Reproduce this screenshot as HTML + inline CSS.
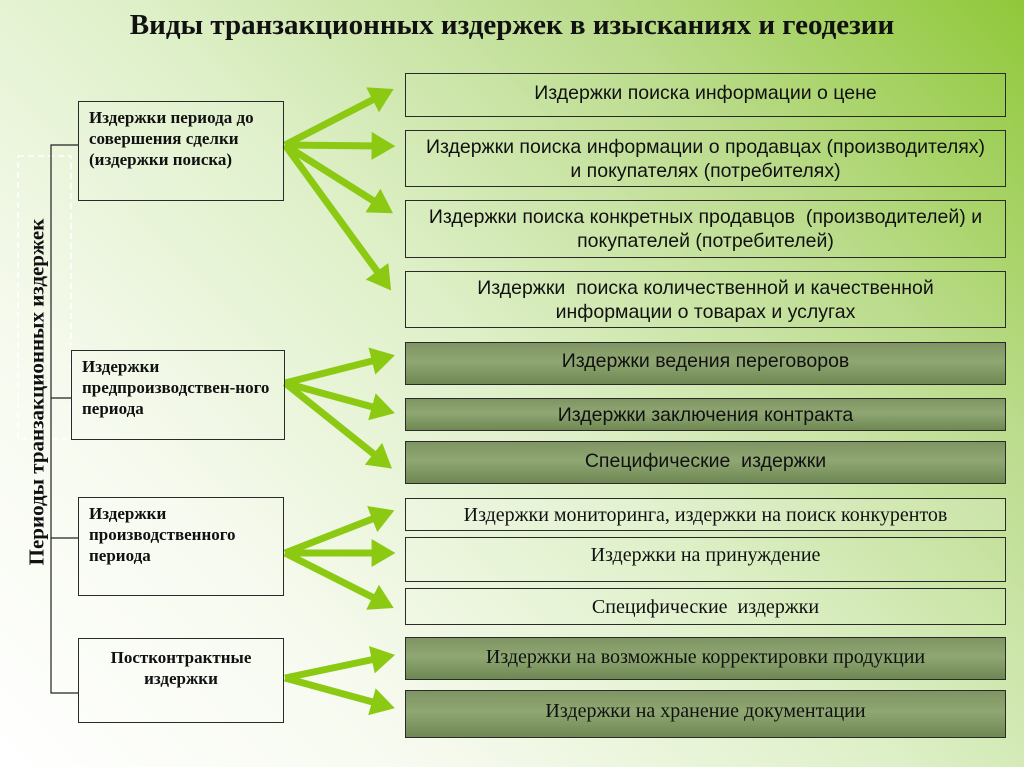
<!DOCTYPE html>
<html><head><meta charset="utf-8"><style>
html,body{margin:0;padding:0}
body{width:1024px;height:767px;overflow:hidden;position:relative;
background:linear-gradient(225deg,#90c83a 0%,#bcdc8e 25%,#def0c8 50%,#f6faee 75%,#ffffff 100%);
font-family:"Liberation Sans",sans-serif}
.t{position:absolute;left:0;width:1024px;top:9px;text-align:center;font:bold 29px "Liberation Serif",serif;color:#111}
.b{position:absolute;box-sizing:border-box;border:1.5px solid #2a2a2a;display:flex;align-items:center;justify-content:center;text-align:center;color:#111;white-space:nowrap}
.r{left:405px;width:601px;font-size:19.5px;line-height:24px}
.s{font-family:"Liberation Serif",serif;font-size:20px}
.d{background:linear-gradient(180deg,#7f9463,#8fa772 45%,#6f8752);}
.l{font:bold 17px "Liberation Serif",serif;justify-content:flex-start;align-items:flex-start;text-align:left;padding:5px 0 0 10px;line-height:21px;background:rgba(255,255,255,0.08)}
.v{position:absolute;left:37px;top:392px;transform:translate(-50%,-50%) rotate(-90deg);white-space:nowrap;font:bold 21px "Liberation Serif",serif;color:#111}
</style></head><body>
<div class="t">Виды транзакционных издержек в изысканиях и геодезии</div>
<svg width="1024" height="767" style="position:absolute;left:0;top:0">
<rect x="18" y="156" width="53" height="283" fill="none" stroke="#fff" stroke-width="1.5" stroke-dasharray="6,4"/>
<g stroke="#222" stroke-width="1.2" fill="none">
<path d="M78 145H51V693H78M51 398H71M51 538H78"/>
</g>
<defs><marker id="a" markerWidth="4" markerHeight="4" refX="1.2" refY="2" orient="auto" markerUnits="strokeWidth"><path d="M0,0L3.4,2L0,4z" fill="#8cc912"/></marker></defs>
<g stroke="#8cc912" stroke-width="7" marker-end="url(#a)">
<line x1="285" y1="145" x2="380" y2="96"/>
<line x1="285" y1="145" x2="380" y2="146"/>
<line x1="285" y1="145" x2="380" y2="205"/>
<line x1="285" y1="145" x2="382" y2="278"/>
<line x1="285" y1="383" x2="380" y2="359"/>
<line x1="285" y1="383" x2="380" y2="409"/>
<line x1="285" y1="383" x2="380" y2="459"/>
<line x1="285" y1="553" x2="380" y2="516"/>
<line x1="285" y1="553" x2="380" y2="553"/>
<line x1="285" y1="553" x2="380" y2="601"/>
<line x1="285" y1="678" x2="380" y2="658"/>
<line x1="285" y1="678" x2="380" y2="704"/>
</g>
</svg>
<div class="v">Периоды транзакционных издержек</div>
<div class="b l" style="left:78px;top:101px;width:206px;height:100px">Издержки периода до<br>совершения сделки<br>(издержки поиска)</div>
<div class="b l" style="left:71px;top:350px;width:214px;height:90px">Издержки<br>предпроизводствен-ного<br>периода</div>
<div class="b l" style="left:78px;top:497px;width:206px;height:99px">Издержки<br>производственного<br>периода</div>
<div class="b l" style="left:78px;top:638px;width:206px;height:85px;justify-content:center;text-align:center;padding:8px 0 0">Постконтрактные<br>издержки</div>

<div class="b r" style="top:73px;height:44px;align-items:flex-start;padding-top:7px">Издержки поиска информации о цене</div>
<div class="b r" style="top:130px;height:57px">Издержки поиска информации о продавцах (производителях)<br>и покупателях (потребителях)</div>
<div class="b r" style="top:200px;height:58px">Издержки поиска конкретных продавцов &nbsp;(производителей) и<br>покупателей (потребителей)</div>
<div class="b r" style="top:271px;height:57px">Издержки &nbsp;поиска количественной и качественной<br>информации о товарах и услугах</div>
<div class="b r d" style="top:342px;height:43px;align-items:flex-start;padding-top:6px">Издержки ведения переговоров</div>
<div class="b r d" style="top:398px;height:33px">Издержки заключения контракта</div>
<div class="b r d" style="top:441px;height:43px;align-items:flex-start;padding-top:7px">Специфические &nbsp;издержки</div>
<div class="b r s" style="top:498px;height:33px;background:rgba(255,255,255,0.15)">Издержки мониторинга, издержки на поиск конкурентов</div>
<div class="b r s" style="top:537px;height:45px;align-items:flex-start;padding-top:5px">Издержки на принуждение</div>
<div class="b r s" style="top:588px;height:37px">Специфические &nbsp;издержки</div>
<div class="b r s d" style="top:637px;height:43px;align-items:flex-start;padding-top:7px">Издержки на возможные корректировки продукции</div>
<div class="b r s d" style="top:690px;height:48px;align-items:flex-start;padding-top:8px">Издержки на хранение документации</div>
</body></html>
